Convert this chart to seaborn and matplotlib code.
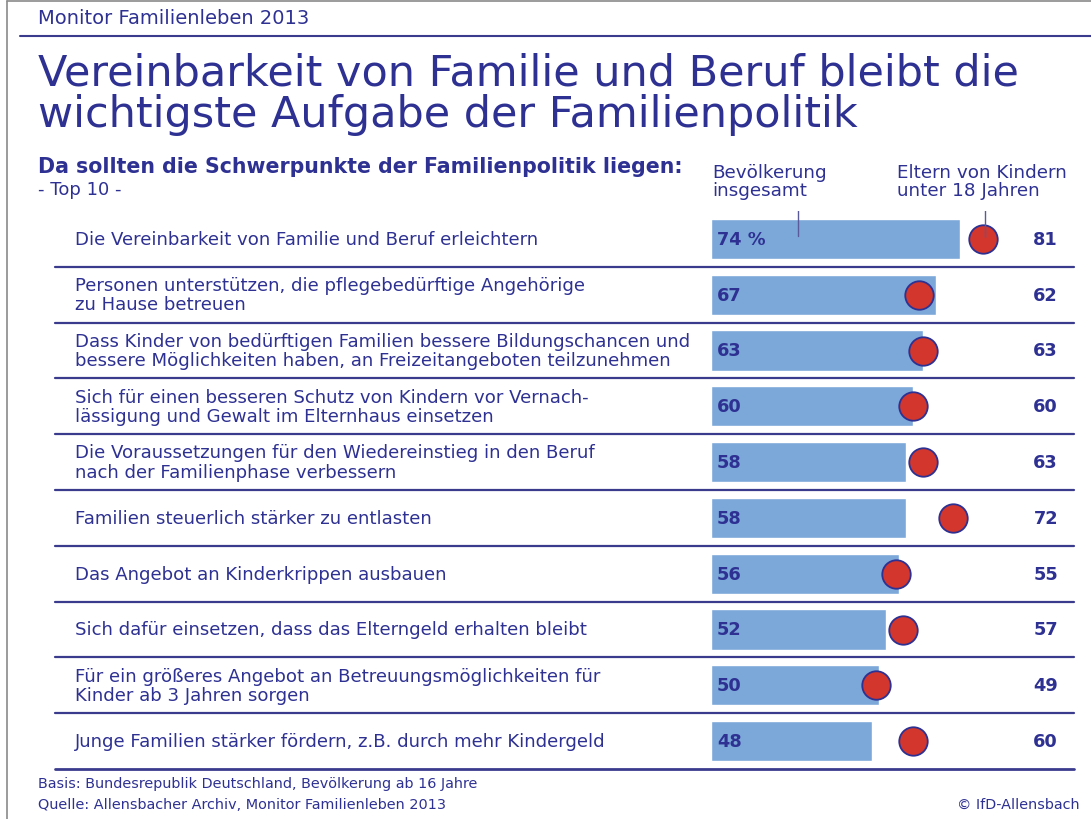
import matplotlib
matplotlib.use("Agg")
import matplotlib.pyplot as plt
import matplotlib.transforms as mtransforms
from matplotlib.lines import Line2D
import seaborn as sns
import pandas as pd

# ---------------- data ----------------
categories = [
    "Die Vereinbarkeit von Familie und Beruf erleichtern",
    "Personen unterstützen, die pflegebedürftige Angehörige\nzu Hause betreuen",
    "Dass Kinder von bedürftigen Familien bessere Bildungschancen und\nbessere Möglichkeiten haben, an Freizeitangeboten teilzunehmen",
    "Sich für einen besseren Schutz von Kindern vor Vernach-\nlässigung und Gewalt im Elternhaus einsetzen",
    "Die Voraussetzungen für den Wiedereinstieg in den Beruf\nnach der Familienphase verbessern",
    "Familien steuerlich stärker zu entlasten",
    "Das Angebot an Kinderkrippen ausbauen",
    "Sich dafür einsetzen, dass das Elterngeld erhalten bleibt",
    "Für ein größeres Angebot an Betreuungsmöglichkeiten für\nKinder ab 3 Jahren sorgen",
    "Junge Familien stärker fördern, z.B. durch mehr Kindergeld",
]
bevoelkerung = [74, 67, 63, 60, 58, 58, 56, 52, 50, 48]
eltern = [81, 62, 63, 60, 63, 72, 55, 57, 49, 60]
bar_labels = ["74 %", "67", "63", "60", "58", "58", "56", "52", "50", "48"]
eltern_labels = ["81", "62", "63", "60", "63", "72", "55", "57", "49", "60"]

title = "Vereinbarkeit von Familie und Beruf bleibt die\nwichtigste Aufgabe der Familienpolitik"
header = "Monitor Familienleben 2013"
subtitle = "Da sollten die Schwerpunkte der Familienpolitik liegen:"
subtitle2 = "- Top 10 -"
legend_bev = "Bevölkerung\ninsgesamt"
legend_elt = "Eltern von Kindern\nunter 18 Jahren"
footer1 = "Basis: Bundesrepublik Deutschland, Bevölkerung ab 16 Jahre"
footer2 = "Quelle: Allensbacher Archiv, Monitor Familienleben 2013"
copyright_txt = "© IfD-Allensbach"

# ---------------- style ----------------
NAVY = "#2E3192"
BAR = "#7BA7D9"
RED = "#D2362C"
W, H = 1091, 820

sns.set_theme(style="white")
plt.rcParams["font.family"] = ["DejaVu Sans"]

fig = plt.figure(figsize=(W / 100, H / 100), dpi=100)
fx = lambda px: px / W
fy = lambda py: 1 - py / H

# axes: x=0 at px 711, 3.36 px per unit; rows centered at 240 + 55.8*i
ax_left, ax_right = 711, 1075
ax_top, ax_bot = 212, 770
ax = fig.add_axes([fx(ax_left), fy(ax_bot), (ax_right - ax_left) / W, (ax_bot - ax_top) / H])
xmax = (ax_right - ax_left) / 3.36

df = pd.DataFrame({"cat": categories, "bev": bevoelkerung, "elt": eltern,
                   "pos": range(len(categories))})

sns.barplot(data=df, x="bev", y="cat", orient="h", color=BAR, width=0.72,
            saturation=1, ax=ax, zorder=2)
sns.scatterplot(data=df, x="elt", y="pos", s=420, color=RED, edgecolor=NAVY,
                linewidth=1.3, ax=ax, zorder=4, legend=False)

ax.set_xlim(0, xmax)
ax.set_ylim(len(categories) - 0.5, -0.5)
ax.set_axis_off()

# value labels
for i, lab in enumerate(bar_labels):
    ax.text(1.8, i, lab, ha="left", va="center", fontsize=12.8, fontweight="bold",
            color=NAVY, zorder=5)
for i, lab in enumerate(eltern_labels):
    ax.text((1058 - ax_left) / 3.36, i, lab, ha="right", va="center", fontsize=12.8,
            fontweight="bold", color=NAVY)

# category labels and separators
blend = mtransforms.blended_transform_factory(fig.transFigure, ax.transData)
for i, cat in enumerate(categories):
    ax.text(fx(75), i, cat, transform=blend, ha="left", va="center", fontsize=13.1,
            color=NAVY, linespacing=1.1)
    lw = 2.0 if i == len(categories) - 1 else 1.6
    ax.add_line(Line2D([fx(55), fx(1074)], [i + 0.5, i + 0.5], transform=blend,
                       color="#3B3B8E", lw=lw, clip_on=False, zorder=1))

# legend pointers
ax.add_line(Line2D([fx(798), fx(798)], [fy(205), fy(237)], transform=fig.transFigure,
                   color="#5A5A9A", lw=1.0, zorder=6))
ax.add_line(Line2D([fx(985), fx(985)], [fy(205), fy(238)], transform=fig.transFigure,
                   color="#5A5A9A", lw=1.0, zorder=6))
fig.text(fx(712), fy(182), legend_bev, ha="left", va="center", fontsize=13.2,
         color=NAVY, linespacing=1.05)
fig.text(fx(897), fy(182), legend_elt, ha="left", va="center", fontsize=13.2,
         color=NAVY, linespacing=1.05)

# header/title
fig.text(fx(38), fy(19), header, ha="left", va="center", fontsize=14, color=NAVY)
fig.add_artist(Line2D([fx(20), fx(1091)], [fy(37), fy(37)], color="#3B3B8E", lw=1.5))
fig.text(fx(38), fy(53), title, ha="left", va="top", fontsize=31, color=NAVY,
         linespacing=0.98)
fig.text(fx(38), fy(167), subtitle, ha="left", va="center", fontsize=14.8,
         fontweight="bold", color=NAVY)
fig.text(fx(38), fy(190), subtitle2, ha="left", va="center", fontsize=13, color=NAVY)

# footer
fig.text(fx(38), fy(784), footer1, ha="left", va="center", fontsize=10.4, color=NAVY)
fig.text(fx(38), fy(805), footer2, ha="left", va="center", fontsize=10.4, color=NAVY)
fig.text(fx(1080), fy(805), copyright_txt, ha="right", va="center", fontsize=10.4, color=NAVY)

# frame
fig.add_artist(Line2D([fx(7), fx(7)], [0, fy(2)], color="#8A8A8A", lw=1.2))
fig.add_artist(Line2D([fx(7), 1], [fy(2), fy(2)], color="#8A8A8A", lw=1.2))

fig.savefig("out.png", dpi=100)
